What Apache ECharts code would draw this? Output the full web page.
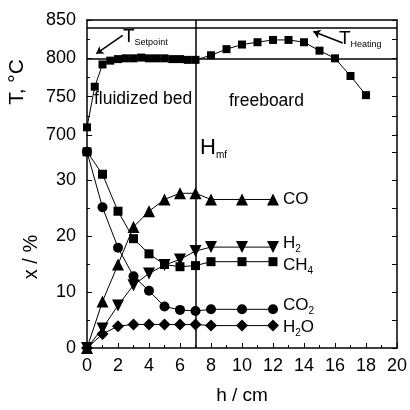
<!DOCTYPE html>
<html>
<head>
<meta charset="utf-8">
<script src="https://cdn.jsdelivr.net/npm/echarts@6/dist/echarts.min.js"></script>
<style>
  html, body { margin: 0; padding: 0; background: #fff; }
  #chart { width: 410px; height: 410px; }
</style>
</head>
<body>
<div id="chart"></div>
<script>
// temperature profile
const hTemp = [0, 0.5, 1, 1.5, 2, 2.5, 3, 3.5, 4, 4.5, 5, 5.5, 6, 6.5, 7, 8, 9, 10, 11, 12, 13, 14, 15, 16, 17, 18];
const tempC = [710, 763, 792, 797, 799, 800, 800, 801, 800, 800, 800, 799, 799, 798, 798, 804, 812, 818, 821, 824, 824, 821, 810, 800, 777, 752];

// gas composition
const hGas = [0, 1, 2, 3, 4, 5, 6, 7, 8, 10, 12];
const xCO = [0, 8.3, 14.9, 21.6, 24.4, 26.5, 27.6, 27.6, 26.5, 26.5, 26.5];
const xH2 = [0, 3.5, 7.6, 11.2, 13.3, 14.8, 15.8, 17.3, 18, 18, 18];
const xCH4 = [35, 31, 24.4, 19.5, 16.8, 14.9, 14.5, 14.7, 15.4, 15.4, 15.4];
const xCO2 = [35, 25.1, 17.9, 12.8, 10.2, 7.4, 6.8, 6.6, 6.9, 6.9, 6.9];
const xH2O = [0, 2.5, 3.9, 4.2, 4.2, 4.2, 4.2, 4.2, 4.0, 4.0, 4.0];

const tSetpoint = 800;
const tHeating = 840;
const hMf = 7;

const font = '"Liberation Sans", Arial, sans-serif';
const pair = (xs, ys) => xs.map((x, i) => [x, ys[i]]);

const chart = echarts.init(document.getElementById('chart'));

const richSub = {
  a: { fontSize: 17, fontFamily: font, color: '#000' },
  s: { fontSize: 10, fontFamily: font, color: '#000', padding: [12, 0, 0, 0] }
};

const gasSeries = (name, data, symbol, size, rotate, label, off) => ({
  type: 'line',
  name: name,
  xAxisIndex: 1,
  yAxisIndex: 2,
  data: pair(hGas, data),
  symbol: symbol,
  symbolSize: size,
  symbolRotate: rotate,
  itemStyle: { color: '#000' },
  lineStyle: { color: '#000', width: 1 },
  endLabel: {
    show: true,
    formatter: label,
    offset: off,
    rich: richSub
  }
});

const axisBase = {
  axisLine: { show: true, lineStyle: { color: '#000', width: 1.5 } },
  splitLine: { show: false },
  axisLabel: { color: '#000', fontSize: 18, fontFamily: font },
  axisTick: { inside: true, length: 5, lineStyle: { color: '#000' } },
  minorTick: { show: true, splitNumber: 2, length: 3, lineStyle: { color: '#000' } }
};

const vLine = {
  silent: true,
  symbol: ['none', 'none'],
  label: { show: false },
  lineStyle: { color: '#000', width: 1.5, type: 'solid' }
};

const option = {
  animation: false,
  grid: [
    { left: 87, right: 13, top: 20, height: 115 },
    { left: 87, right: 13, top: 135, bottom: 60 }
  ],
  xAxis: [
    Object.assign({}, axisBase, {
      gridIndex: 0, type: 'value', min: 0, max: 20, position: 'top',
      axisTick: { show: false }, minorTick: { show: false }, axisLabel: { show: false }
    }),
    Object.assign({}, axisBase, {
      gridIndex: 1, type: 'value', min: 0, max: 20, interval: 2,
      name: 'h / cm', nameLocation: 'middle', nameGap: 38,
      nameTextStyle: { color: '#000', fontSize: 19, fontFamily: font },
      axisLabel: { color: '#000', fontSize: 18, fontFamily: font, margin: 9 }
    })
  ],
  yAxis: [
    Object.assign({}, axisBase, {
      gridIndex: 0, type: 'value', min: 700, max: 850, interval: 50,
      axisLabel: { color: '#000', fontSize: 18, fontFamily: font, margin: 11 }
    }),
    Object.assign({}, axisBase, {
      gridIndex: 0, type: 'value', min: 700, max: 850, interval: 25, position: 'right',
      axisLabel: { show: false }, minorTick: { show: false }
    }),
    Object.assign({}, axisBase, {
      gridIndex: 1, type: 'value', min: 0, max: 38, interval: 10,
      axisLabel: { color: '#000', fontSize: 18, fontFamily: font, margin: 11, showMaxLabel: false }
    }),
    Object.assign({}, axisBase, {
      gridIndex: 1, type: 'value', min: 0, max: 38, interval: 5, position: 'right',
      axisLabel: { show: false }, minorTick: { show: false }
    })
  ],
  series: [
    {
      type: 'line',
      name: 'T',
      xAxisIndex: 0,
      yAxisIndex: 0,
      data: pair(hTemp, tempC),
      symbol: 'rect',
      symbolSize: 8,
      itemStyle: { color: '#000' },
      lineStyle: { color: '#000', width: 1 },
      markLine: Object.assign({}, vLine, {
        data: [
          { yAxis: tSetpoint },
          { yAxis: tHeating },
          { xAxis: hMf },
          [{ coord: [2.3, 830], symbol: 'none' },
           { coord: [0.6, 806], symbol: 'arrow', symbolSize: 7 }],
          [{ coord: [16.5, 820], symbol: 'none' },
           { coord: [14.6, 835], symbol: 'arrow', symbolSize: 7 }]
        ]
      })
    },
    Object.assign(gasSeries('CO', xCO, 'triangle', 12, 0, '{a|CO}', [2, 0]), {
      markLine: Object.assign({}, vLine, { data: [{ xAxis: hMf }] })
    }),
    gasSeries('H2', xH2, 'triangle', 12, 180, '{a|H}{s|2}', [2, -4]),
    gasSeries('CH4', xCH4, 'rect', 9, 0, '{a|CH}{s|4}', [2, 4]),
    gasSeries('CO2', xCO2, 'circle', 10, 0, '{a|CO}{s|2}', [2, -4]),
    gasSeries('H2O', xH2O, 'diamond', 12, 0, '{a|H}{s|2}{a|O}', [2, 2])
  ],
  graphic: [
    { type: 'text', left: 94, top: 90, style: { text: 'fluidized bed', font: '17.5px ' + font, fill: '#000' } },
    { type: 'text', left: 229, top: 92, style: { text: 'freeboard', font: '17.5px ' + font, fill: '#000' } },
    { type: 'text', left: 200, top: 137, style: {
      text: '{a|H}{s|mf}',
      rich: { a: { fontSize: 22, fontFamily: font, fill: '#000' }, s: { fontSize: 10, fontFamily: font, fill: '#000', padding: [14, 0, 0, 0] } }
    } },
    { type: 'text', left: 123, top: 27, style: {
      text: '{a|T}{s|Setpoint}',
      rich: { a: { fontSize: 19, fontFamily: font, fill: '#000' }, s: { fontSize: 9, fontFamily: font, fill: '#000', padding: [12, 0, 0, 0] } }
    } },
    { type: 'text', left: 339, top: 29, style: {
      text: '{a|T}{s|Heating}',
      rich: { a: { fontSize: 19, fontFamily: font, fill: '#000' }, s: { fontSize: 9, fontFamily: font, fill: '#000', padding: [12, 0, 0, 0] } }
    } },
    { type: 'text', x: 17, y: 82, rotation: Math.PI / 2, style: {
      text: 'T, °C', font: '21px ' + font, fill: '#000', align: 'center', verticalAlign: 'middle'
    } },
    { type: 'text', x: 31, y: 257, rotation: Math.PI / 2, style: {
      text: 'x / %', font: '20px ' + font, fill: '#000', align: 'center', verticalAlign: 'middle'
    } }
  ]
};

chart.setOption(option);
</script>
</body>
</html>
